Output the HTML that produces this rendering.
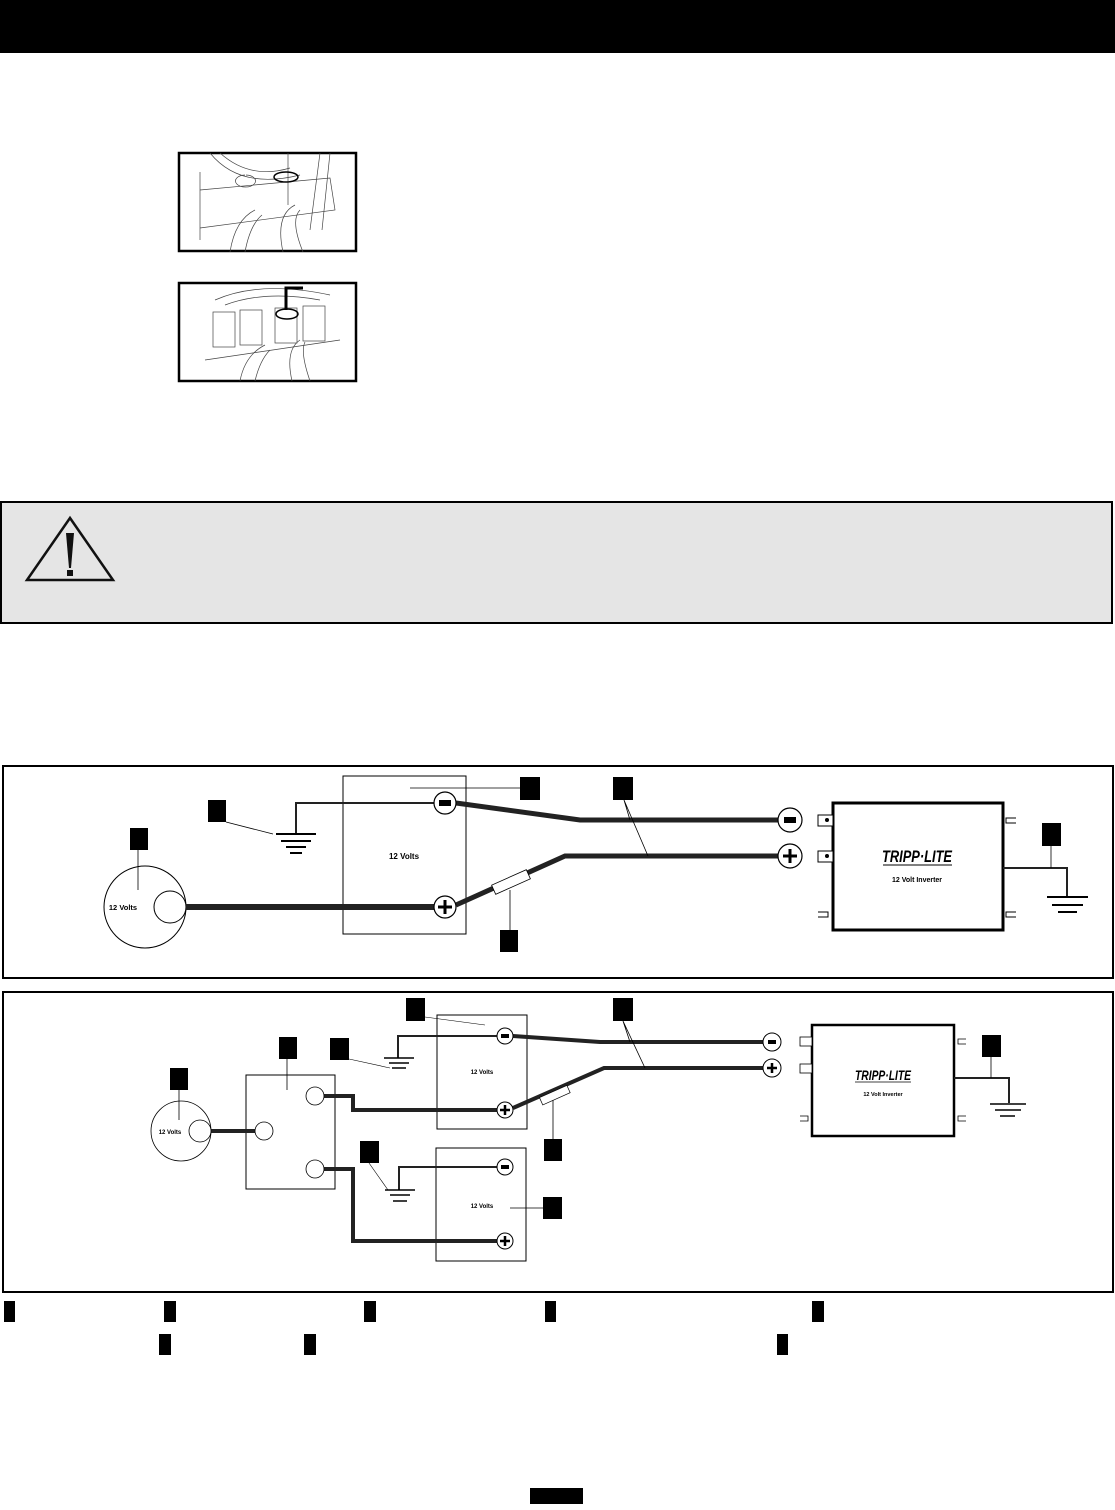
<!DOCTYPE html>
<html><head><meta charset="utf-8"><style>
html,body{margin:0;padding:0;background:#fff;}
svg{display:block;}
text{font-family:"Liberation Sans",Arial,sans-serif;}
</style></head><body>
<svg width="1115" height="1510" viewBox="0 0 1115 1510" xmlns="http://www.w3.org/2000/svg">
<rect x="0" y="0" width="1115" height="53" fill="#000"/>

<!-- photos -->
<g fill="none" stroke="#000">
<rect x="179" y="153" width="177" height="98" stroke-width="2.5"/>
<g stroke-width="0.7" stroke="#444">
<path d="M210 153 Q240 190 300 175 M220 153 Q250 180 290 168 M245 175 a10 6 0 1 0 1 0"/>
<path d="M200 172 L200 240 M200 190 L330 178 L335 210 L200 228"/>
<path d="M230 252 Q235 220 255 210 M245 252 Q250 225 262 215 M283 252 Q275 215 295 205 M303 252 Q290 220 300 210"/>
<path d="M320 153 L310 230 M330 153 L322 230 M288 153 L288 205"/>
</g>
<ellipse cx="286" cy="177" rx="12" ry="5" stroke-width="1.5"/>
<rect x="179" y="283" width="177" height="98" stroke-width="2.5"/>
<g stroke-width="0.7" stroke="#444">
<path d="M215 300 Q260 280 330 295 M225 305 Q265 290 320 300"/>
<rect x="213" y="312" width="22" height="35"/><rect x="240" y="310" width="22" height="35"/><rect x="275" y="308" width="22" height="35"/><rect x="303" y="306" width="22" height="35"/>
<path d="M240 381 Q245 355 265 345 M255 381 Q260 360 270 350 M292 381 Q285 350 300 340 M310 381 Q300 352 305 342"/>
<path d="M205 360 L340 340"/>
</g>
<path d="M286 310 L286 288 L303 288" stroke-width="3"/>
<ellipse cx="287" cy="314" rx="11" ry="5" stroke-width="1.5"/>
</g>

<!-- warning -->
<rect x="1" y="502" width="1111" height="121" fill="#e5e5e5" stroke="#000" stroke-width="2"/>
<path d="M70 518 L27 580 L113 580 Z" fill="none" stroke="#111" stroke-width="2.5"/>
<path d="M66 533 L74 533 L71 568 L69 568 Z" fill="#111"/>
<rect x="67" y="570" width="6" height="6" fill="#111"/>

<!-- Diagram 1 -->
<rect x="3" y="766" width="1110" height="212" fill="none" stroke="#000" stroke-width="2"/>
<rect x="343" y="776" width="123" height="158" fill="none" stroke="#000" stroke-width="1"/>
<text x="404" y="859" font-size="8" font-weight="bold" text-anchor="middle">12 Volts</text>
<!-- ground 1 -->
<path d="M434 803 L296 803 L296 834" fill="none" stroke="#222" stroke-width="2"/>
<g stroke="#000" stroke-width="2"><path d="M276 834H316M281 841H311M286 847H306M290 853H302"/></g>
<rect x="208" y="800" width="18" height="22" fill="#000"/>
<path d="M226 822 L273 834" stroke="#000" stroke-width="0.8"/>
<!-- alternator -->
<circle cx="145" cy="907" r="41" fill="none" stroke="#000" stroke-width="1"/>
<circle cx="170" cy="907" r="16" fill="#fff" stroke="#000" stroke-width="1"/>
<text x="123" y="910" font-size="7.5" font-weight="bold" text-anchor="middle">12 Volts</text>
<rect x="130" y="828" width="18" height="22" fill="#000"/>
<path d="M138 850 L138 890" stroke="#000" stroke-width="0.8"/>
<path d="M186 907 L434 907" stroke="#222" stroke-width="6"/>
<!-- cables -->
<path d="M456 803 L580 820 L780 820" fill="none" stroke="#222" stroke-width="5"/>
<path d="M456 905 L565 856 L780 856" fill="none" stroke="#222" stroke-width="5"/>
<rect x="492" y="877" width="38" height="10" fill="#fff" stroke="#000" stroke-width="0.8" transform="rotate(-24 511 882)"/>
<circle cx="445" cy="803" r="11" fill="#fff" stroke="#000" stroke-width="1.2"/>
<rect x="439" y="800" width="12" height="6" fill="#000"/>
<circle cx="445" cy="907" r="11" fill="#fff" stroke="#000" stroke-width="1.2"/>
<path d="M445 900V914M438 907H452" stroke="#000" stroke-width="3"/>
<rect x="520" y="777" width="20" height="23" fill="#000"/>
<path d="M410 788 L520 788" stroke="#000" stroke-width="0.8"/>
<rect x="613" y="777" width="20" height="23" fill="#000"/>
<path d="M624 800 L630 820 M624 800 L648 856" stroke="#000" stroke-width="0.8"/>
<rect x="500" y="930" width="18" height="22" fill="#000"/>
<path d="M510 930 L510 890" stroke="#000" stroke-width="0.8"/>
<!-- inverter 1 -->
<rect x="833" y="803" width="170" height="127" fill="#fff" stroke="#000" stroke-width="3"/>
<g fill="#fff" stroke="#000" stroke-width="1">
<rect x="818" y="815" width="15" height="11"/><rect x="818" y="851" width="15" height="11"/>
</g>
<circle cx="827" cy="820" r="2" fill="#000"/><circle cx="827" cy="856" r="2" fill="#000"/>
<g fill="none" stroke="#000" stroke-width="1">
<path d="M1016 818 H1006 V823 H1016 M1016 912 H1006 V917 H1016 M818 912 H828 V917 H818"/>
</g>
<circle cx="790" cy="820" r="12" fill="#fff" stroke="#000" stroke-width="1.2"/>
<rect x="784" y="817" width="12" height="6" fill="#000"/>
<circle cx="790" cy="856" r="12" fill="#fff" stroke="#000" stroke-width="1.2"/>
<path d="M790 849V863M783 856H797" stroke="#000" stroke-width="3"/>
<text x="917" y="862" font-size="17" font-weight="bold" font-style="italic" text-anchor="middle" textLength="70" lengthAdjust="spacingAndGlyphs">TRIPP·LITE</text>
<path d="M883 865 H952" stroke="#000" stroke-width="1"/>
<text x="917" y="882" font-size="7" font-weight="bold" text-anchor="middle">12 Volt Inverter</text>
<path d="M1003 868 L1067 868 L1067 897" fill="none" stroke="#222" stroke-width="2"/>
<g stroke="#000" stroke-width="2"><path d="M1047 897H1088M1052 905H1083M1058 912H1077"/></g>
<rect x="1042" y="823" width="19" height="23" fill="#000"/>
<path d="M1051 846 L1051 868" stroke="#000" stroke-width="0.8"/>

<!-- Diagram 2 -->
<rect x="3" y="992" width="1110" height="300" fill="none" stroke="#000" stroke-width="2"/>
<rect x="437" y="1015" width="90" height="114" fill="none" stroke="#000" stroke-width="1"/>
<text x="482" y="1074" font-size="6" font-weight="bold" text-anchor="middle">12 Volts</text>
<rect x="436" y="1148" width="90" height="113" fill="none" stroke="#000" stroke-width="1"/>
<text x="482" y="1208" font-size="6" font-weight="bold" text-anchor="middle">12 Volts</text>
<!-- switch -->
<rect x="246" y="1075" width="89" height="114" fill="none" stroke="#000" stroke-width="1"/>
<circle cx="181" cy="1131" r="30" fill="none" stroke="#000" stroke-width="0.8"/>
<text x="170" y="1134" font-size="6" font-weight="bold" text-anchor="middle">12 Volts</text>
<path d="M211 1131 L256 1131" stroke="#222" stroke-width="4"/>
<path d="M324 1096 L353 1096 L353 1110 L497 1110" fill="none" stroke="#222" stroke-width="4"/>
<path d="M324 1169 L353 1169 L353 1241 L497 1241" fill="none" stroke="#222" stroke-width="4"/>
<circle cx="200" cy="1131" r="11" fill="#fff" stroke="#000" stroke-width="0.8"/>
<circle cx="315" cy="1096" r="9" fill="#fff" stroke="#000" stroke-width="0.8"/>
<circle cx="264" cy="1131" r="9" fill="#fff" stroke="#000" stroke-width="0.8"/>
<circle cx="315" cy="1169" r="9" fill="#fff" stroke="#000" stroke-width="0.8"/>
<rect x="170" y="1068" width="18" height="22" fill="#000"/>
<path d="M179 1090 L179 1120" stroke="#000" stroke-width="0.8"/>
<rect x="279" y="1037" width="18" height="22" fill="#000"/>
<path d="M287 1059 L287 1090" stroke="#000" stroke-width="0.8"/>
<!-- grounds -->
<path d="M497 1036 L398 1036 L398 1058" fill="none" stroke="#222" stroke-width="2"/>
<g stroke="#000" stroke-width="1.5"><path d="M384 1058H414M389 1063H409M392 1068H406"/></g>
<rect x="330" y="1038" width="19" height="22" fill="#000"/>
<path d="M349 1059 L390 1068" stroke="#000" stroke-width="0.6"/>
<path d="M497 1167 L399 1167 L399 1190" fill="none" stroke="#222" stroke-width="2"/>
<g stroke="#000" stroke-width="1.5"><path d="M385 1190H415M390 1195H410M393 1201H407"/></g>
<rect x="360" y="1141" width="19" height="22" fill="#000"/>
<path d="M369 1163 L388 1190" stroke="#000" stroke-width="0.6"/>
<rect x="406" y="998" width="19" height="23" fill="#000"/>
<path d="M425 1017 L485 1025" stroke="#000" stroke-width="0.6"/>
<rect x="543" y="1197" width="19" height="22" fill="#000"/>
<path d="M510 1208 L543 1208" stroke="#000" stroke-width="0.8"/>
<!-- cables 2 -->
<path d="M513 1036 L600 1042 L765 1042" fill="none" stroke="#222" stroke-width="4"/>
<path d="M513 1108 L604 1068 L765 1068" fill="none" stroke="#222" stroke-width="4"/>
<rect x="540" y="1092" width="30" height="8" fill="#fff" stroke="#000" stroke-width="0.7" transform="rotate(-24 553 1096)"/>
<rect x="544" y="1139" width="18" height="22" fill="#000"/>
<path d="M553 1139 L553 1100" stroke="#000" stroke-width="0.8"/>
<rect x="613" y="998" width="20" height="23" fill="#000"/>
<path d="M623 1021 L630 1042 M623 1021 L645 1068" stroke="#000" stroke-width="0.8"/>
<circle cx="505" cy="1036" r="8" fill="#fff" stroke="#000" stroke-width="1"/>
<rect x="501" y="1034" width="8" height="4" fill="#000"/>
<circle cx="505" cy="1110" r="8" fill="#fff" stroke="#000" stroke-width="1"/>
<path d="M505 1105V1115M500 1110H510" stroke="#000" stroke-width="2.5"/>
<circle cx="505" cy="1167" r="8" fill="#fff" stroke="#000" stroke-width="1"/>
<rect x="501" y="1165" width="8" height="4" fill="#000"/>
<circle cx="505" cy="1241" r="8" fill="#fff" stroke="#000" stroke-width="1"/>
<path d="M505 1236V1246M500 1241H510" stroke="#000" stroke-width="2.5"/>
<!-- inverter 2 -->
<rect x="812" y="1025" width="142" height="111" fill="#fff" stroke="#000" stroke-width="2.5"/>
<g fill="#fff" stroke="#000" stroke-width="0.8">
<rect x="800" y="1037" width="12" height="9"/><rect x="800" y="1064" width="12" height="9"/>
</g>
<g fill="none" stroke="#000" stroke-width="0.8">
<path d="M966 1039 H958 V1044 H966 M966 1116 H958 V1121 H966 M800 1116 H808 V1121 H800"/>
</g>
<circle cx="772" cy="1042" r="9" fill="#fff" stroke="#000" stroke-width="1"/>
<rect x="768" y="1040" width="8" height="4" fill="#000"/>
<circle cx="772" cy="1068" r="9" fill="#fff" stroke="#000" stroke-width="1"/>
<path d="M772 1063V1073M767 1068H777" stroke="#000" stroke-width="2.5"/>
<text x="883" y="1080" font-size="14" font-weight="bold" font-style="italic" text-anchor="middle" textLength="56" lengthAdjust="spacingAndGlyphs">TRIPP·LITE</text>
<path d="M855 1082 H911" stroke="#000" stroke-width="0.8"/>
<text x="883" y="1096" font-size="5.5" font-weight="bold" text-anchor="middle">12 Volt Inverter</text>
<path d="M954 1078 L1009 1078 L1009 1103" fill="none" stroke="#222" stroke-width="2"/>
<g stroke="#000" stroke-width="1.5"><path d="M990 1104H1026M995 1110H1021M1000 1116H1015"/></g>
<rect x="982" y="1035" width="19" height="22" fill="#000"/>
<path d="M991 1057 L991 1078" stroke="#000" stroke-width="0.8"/>

<!-- legend squares -->
<g fill="#000">
<rect x="4" y="1301" width="11" height="21"/><rect x="164" y="1301" width="12" height="21"/><rect x="364" y="1301" width="12" height="21"/><rect x="545" y="1301" width="11" height="21"/><rect x="812" y="1301" width="12" height="21"/>
<rect x="159" y="1334" width="12" height="21"/><rect x="304" y="1334" width="12" height="21"/><rect x="777" y="1334" width="11" height="21"/>
<rect x="530" y="1488" width="53" height="16"/>
</g>
</svg>
</body></html>
